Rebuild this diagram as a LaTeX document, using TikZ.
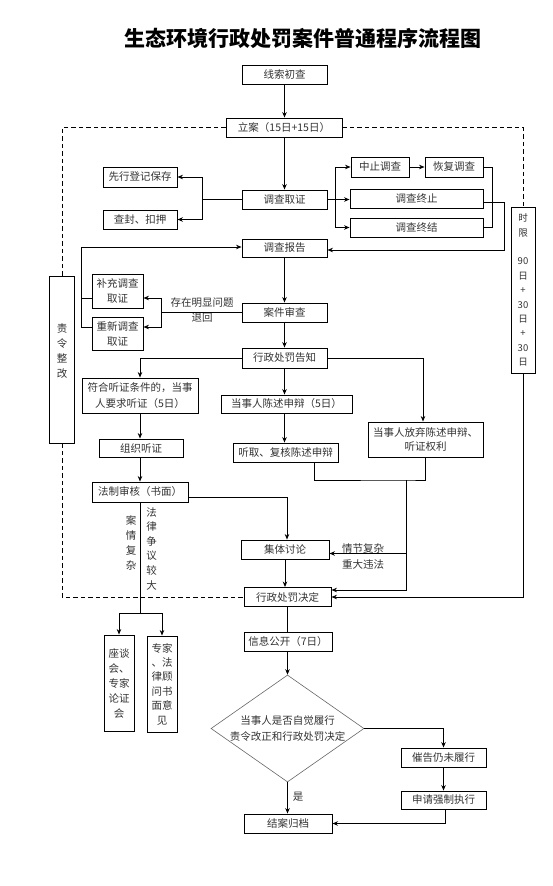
\documentclass[tikz,border=0pt]{standalone}
\usepackage{fontspec}
\setmainfont{Noto Sans CJK SC}
\usetikzlibrary{arrows.meta,shapes.geometric}
\begin{document}
\begin{tikzpicture}[x=1pt,y=-1pt,
  box/.style={draw, line width=0.9pt, fill=white, inner sep=0pt, align=center, font=\fontsize{10.5}{15}\selectfont, text=black!80},
  arr/.style={line width=0.9pt, -{Stealth[length=5.5pt,width=4.5pt]}},
  ln/.style={line width=0.9pt},
  dsh/.style={line width=0.9pt, dash pattern=on 4.5pt off 3pt},
  lbl/.style={inner sep=0pt, align=center, font=\fontsize{10.5}{15}\selectfont, text=black!80}
]
\useasboundingbox (0,0) rectangle (552,886);
\node[inner sep=0pt, font=\fontsize{21}{24}\selectfont\bfseries] (title) at (302.5,38) {生态环境行政处罚案件普通程序流程图};

\node[box, minimum width=85pt, minimum height=19pt] (xs) at (284.5,74.5) {线索初查};
\node[box, minimum width=116pt, minimum height=19pt] (la) at (284,127.5) {立案（15日+15日）};
\node[box, minimum width=85pt, minimum height=19pt] (dc) at (284.5,199.5) {调查取证};
\node[box, minimum width=74pt, minimum height=20pt] (xx) at (140,177) {先行登记保存};
\node[box, minimum width=74pt, minimum height=19pt] (cf) at (140,219.5) {查封、扣押};
\node[box, minimum width=58pt, minimum height=20pt] (zz) at (380,167) {中止调查};
\node[box, minimum width=58pt, minimum height=20pt] (hf) at (454,167) {恢复调查};
\node[box, minimum width=133pt, minimum height=19pt] (zzz) at (416.5,198.5) {调查终止};
\node[box, minimum width=133pt, minimum height=19pt] (zj) at (416.5,227.5) {调查终结};
\node[box, minimum width=85pt, minimum height=18pt] (bg) at (284.5,248) {调查报告};
\node[box, minimum width=51pt, minimum height=34pt] (bc) at (117.5,291) {补充调查\\取证};
\node[box, minimum width=51pt, minimum height=33pt] (cx) at (117.5,333.5) {重新调查\\取证};
\node[box, minimum width=85pt, minimum height=19pt] (sc) at (284.5,312.5) {案件审查};
\node[box, minimum width=85pt, minimum height=20pt] (gz) at (284.5,358) {行政处罚告知};
\node[box, minimum width=116pt, minimum height=35pt, font=\fontsize{10.5}{16}\selectfont] (fh) at (140,395.5) {符合听证条件的，当事\\人要求听证（5日）};
\node[box, minimum width=131pt, minimum height=18pt] (cs) at (286.5,404) {当事人陈述申辩（5日）};
\node[box, minimum width=115pt, minimum height=35pt, font=\fontsize{10.5}{14}\selectfont] (fq) at (425.5,439.5) {当事人放弃陈述申辩、\\听证权利};
\node[box, minimum width=84pt, minimum height=18pt] (zt) at (141,448) {组织听证};
\node[box, minimum width=105pt, minimum height=19pt] (tq) at (285.5,452.5) {听取、复核陈述申辩};
\node[box, minimum width=96pt, minimum height=20pt] (fz) at (140,492) {法制审核（书面）};
\node[box, minimum width=88pt, minimum height=19pt] (jt) at (285,549.5) {集体讨论};
\node[box, minimum width=87pt, minimum height=19pt] (jd) at (287.5,597) {行政处罚决定};
\node[box, minimum width=30pt, minimum height=96pt] (zt2) at (119,683) {座谈\\会、\\专家\\论证\\会};
\node[box, minimum width=30pt, minimum height=96pt, font=\fontsize{10.5}{14.4}\selectfont] (zj2) at (162,684) {专家\\、法\\律顾\\问书\\面意\\见};
\node[box, minimum width=88pt, minimum height=19pt] (xg) at (288,641.5) {信息公开（7日）};
\node[draw=black!60, line width=0.6pt, diamond, aspect=1.43, minimum width=153pt, minimum height=107pt, lbl, font=\fontsize{10.5}{16}\selectfont] (dm) at (287.5,728.5) {当事人是否自觉履行\\责令改正和行政处罚决定};
\node[box, minimum width=85pt, minimum height=19pt] (cg) at (443.5,757.5) {催告仍未履行};
\node[box, minimum width=85pt, minimum height=18pt] (sq) at (443.5,800) {申请强制执行};
\node[box, minimum width=88pt, minimum height=19pt] (ja) at (288,823.5) {结案归档};
\node[box, minimum width=24pt, minimum height=166pt, font=\fontsize{9.5}{14.4}\selectfont] (sx) at (523,290) {时\\限\\ \\90\\日\\+\\30\\日\\+\\30\\日};
\node[box, minimum width=25pt, minimum height=167pt, font=\fontsize{10.5}{15}\selectfont] (zg) at (62,359.5) {};
\node[lbl] (zgt) at (62,351) {责\\令\\整\\改};

% labels
\node[lbl] (l1) at (202,303) {存在明显问题};
\node[lbl] (l2) at (202,318) {退回};
\node[lbl] (l3) at (363,549) {情节复杂};
\node[lbl] (l4) at (363,564) {重大违法};
\node[lbl] (l5) at (131,542.5) {案\\情\\复\\杂};
\node[lbl, font=\fontsize{10.5}{14.6}\selectfont] (l6) at (151.5,548.5) {法\\律\\争\\议\\较\\大};
\node[lbl] (l7) at (298,797) {是};

% coordinates
\coordinate (f1) at (202,199.5);
\coordinate (f2) at (335,199.5);
\coordinate (f3) at (161,312.5);
\coordinate (m1) at (406,480);
\coordinate (m2) at (406,553.5);
\coordinate (f4) at (140,613);

% dashed frame
\draw[dsh] (la.west) -| (zg.north);
\draw[dsh] (zg.south) |- (jd.west);
\draw[dsh] (la.east) -| (sx.north);

% connectors
\draw[arr] (xs.south) -- (xs.south |- la.north);
\draw[arr] (dc.north |- la.south) -- (dc.north);
\draw[ln] (dc.west) -- (f1);
\draw[arr] (f1) |- (xx.east);
\draw[arr] (f1) |- (cf.east);
\draw[ln] (dc.east) -- (f2);
\draw[arr] (f2) |- (zz.west);
\draw[arr] (f2) -- (f2 -| zzz.west);
\draw[arr] (f2) |- (zj.west);
\draw[arr] (zz.east) -- (hf.west);
\draw[ln] (hf.east) -- ++(9,0) |- (zj.east);
\draw[arr] ([yshift=-4pt]zzz.east) -- ++(21,0) |- ([yshift=-2pt]bg.east);
\draw[arr] ([yshift=6.5pt]cx.west) -- ++(-10,0) |- ([yshift=1pt]bg.west);
\draw[ln] ([yshift=-7pt]bc.west) -- ++(-10,0);
\draw[arr] (bg.south) -- (sc.north);
\draw[ln] (sc.west) -- (f3);
\draw[arr] (f3) |- ([yshift=-7pt]bc.east);
\draw[arr] (f3) |- ([yshift=6.5pt]cx.east);
\draw[arr] (sc.south) -- (gz.north);
\draw[arr] (gz.west) -| (fh.north);
\draw[arr] (gz.south) -- (gz.south |- cs.north);
\draw[arr] (gz.east) -| ([xshift=-2.5pt]fq.north);
\draw[arr] (fh.south) -- (fh.south |- zt.north);
\draw[arr] (gz.south |- cs.south) -- (gz.south |- tq.north);
\draw[ln] ([xshift=28.5pt]tq.south) |- (m1) -| (fq.south);
\draw[arr] (m1) |- ([yshift=7pt]jd.east);
\draw[arr] (m2) -- (m2 -| jt.east);
\draw[arr] (zt.south -| fz.north) -- (fz.north);
\draw[arr] ([yshift=-5pt]fz.east) -| ([xshift=2pt]jt.north);
\draw[arr] (jt.south) -- (jt.south |- jd.north);
\draw[ln] (fz.south) -- (f4);
\draw[arr] (f4) -| (zt2.north);
\draw[arr] (f4) -| (zj2.north);
\draw[arr] (sx.south) |- (jd.east);
\draw[ln] (jd.south) -- (jd.south |- xg.north);
\draw[arr] (xg.south -| dm.north) -- (dm.north);
\draw[arr] (dm.east) -| (cg.north);
\draw[arr] (cg.south) -- (sq.north);
\draw[arr] ([xshift=2pt]sq.south) |- (ja.east);
\draw[arr] (dm.south) -- (dm.south |- ja.north);
\end{tikzpicture}
\end{document}
